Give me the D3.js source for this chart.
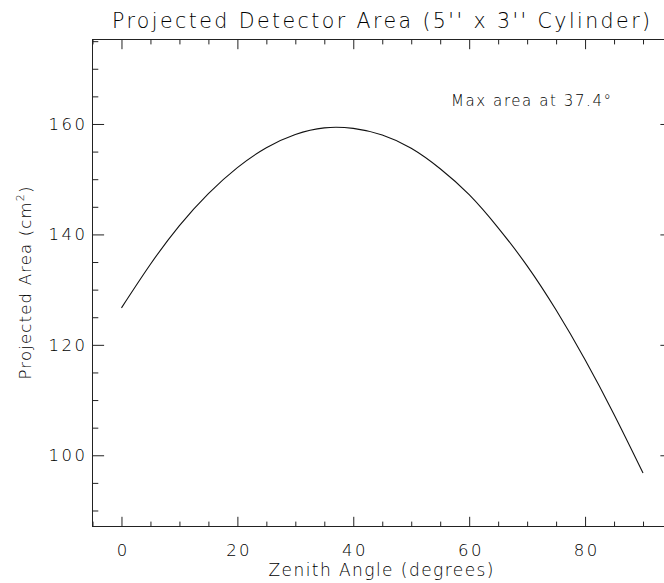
<!DOCTYPE html>
<html>
<head>
<meta charset="utf-8">
<script src="https://cdn.jsdelivr.net/npm/d3@7"></script>
<style>
  html, body { margin: 0; padding: 0; background: #fff; }
  svg { display: block; }
  text { font-family: "DejaVu Sans", "Liberation Sans", sans-serif; font-weight: 200; fill: #000; }
</style>
</head>
<body>
<svg id="chart" width="664" height="583"></svg>
<script>
// Zenith angle (degrees) and projected area (cm^2) of a 5" x 3" cylinder
const zenithAngle = [0, 5, 10, 15, 20, 25, 30, 35, 40, 45, 50, 55, 60, 65, 70, 75, 80, 85, 90];
const projectedArea = [126.7, 134.6, 141.6, 147.4, 152.1, 155.7, 158.1, 159.3, 159.2, 158.0,
                       155.6, 151.9, 147.2, 141.2, 134.3, 126.3, 117.3, 107.4, 96.8];
const xTickValues = [0, 20, 40, 60, 80];
const yTickValues = [100, 120, 140, 160];
const xDomain = [-5, 95];
const yDomain = [87.1, 175.3];
const maxAngle = 37.4;

const titleText = "Projected Detector Area (5'' x 3'' Cylinder)";
const xTitle = "Zenith Angle (degrees)";

const svg = d3.select("#chart");
const plotLeft = 92.5, plotRight = 672, plotTop = 39.5, plotBottom = 526.5;

const x = d3.scaleLinear().domain(xDomain).range([plotLeft, plotRight]);
const y = d3.scaleLinear().domain(yDomain).range([plotBottom, plotTop]);

const xMinor = d3.range(-5, 96, 5).filter(v => v % 20 !== 0);
const yMinor = d3.range(90, 176, 5).filter(v => v % 20 !== 0);

const axisColor = "#222";

// frame
svg.append("rect")
  .attr("x", plotLeft).attr("y", plotTop)
  .attr("width", plotRight - plotLeft).attr("height", plotBottom - plotTop)
  .attr("fill", "none").attr("stroke", axisColor).attr("stroke-width", 1);

// tick lengths: major and minor, for x and y
const xMajorLen = 9.7, xMinorLen = 4.9;
const yMajorLen = 11.6, yMinorLen = 5.8;

function addAxis(axis, tx, ty) {
  const g = svg.append("g").attr("transform", `translate(${tx},${ty})`).call(axis);
  g.select(".domain").remove();
  return g;
}

// bottom and top axes
const gx = addAxis(d3.axisBottom(x).tickValues(xTickValues).tickSize(-xMajorLen).tickPadding(17.5).tickFormat(d3.format("d")), 0, plotBottom);
addAxis(d3.axisBottom(x).tickValues(xMinor).tickSize(-xMinorLen).tickFormat(""), 0, plotBottom);
addAxis(d3.axisTop(x).tickValues(xTickValues).tickSize(-xMajorLen).tickFormat(""), 0, plotTop);
addAxis(d3.axisTop(x).tickValues(xMinor).tickSize(-xMinorLen).tickFormat(""), 0, plotTop);

// left and right axes
const gy = addAxis(d3.axisLeft(y).tickValues(yTickValues).tickSize(-yMajorLen).tickPadding(5).tickFormat(d3.format("d")), plotLeft, 0);
addAxis(d3.axisLeft(y).tickValues(yMinor).tickSize(-yMinorLen).tickFormat(""), plotLeft, 0);
addAxis(d3.axisRight(y).tickValues(yTickValues).tickSize(-yMajorLen).tickFormat(""), plotRight, 0);
addAxis(d3.axisRight(y).tickValues(yMinor).tickSize(-yMinorLen).tickFormat(""), plotRight, 0);

svg.selectAll(".tick line").attr("stroke", axisColor);
svg.selectAll(".tick text")
  .style("font-family", '"DejaVu Sans", sans-serif')
  .style("font-weight", 200)
  .style("font-size", "16.5px")
  .style("letter-spacing", "2.5px")
  .attr("fill", "#000");
// keep centred labels centred despite the trailing letter spacing
gx.selectAll(".tick text").attr("dx", 1.25);

// curve
const line = d3.line()
  .x((d, i) => x(zenithAngle[i]))
  .y(d => y(d))
  .curve(d3.curveNatural);

svg.append("path")
  .datum(projectedArea)
  .attr("d", line)
  .attr("fill", "none")
  .attr("stroke", "#111")
  .attr("stroke-width", 1.1);

// title
svg.append("text")
  .attr("x", 381)
  .attr("y", 28.3)
  .attr("text-anchor", "middle")
  .attr("textLength", 538)
  .attr("lengthAdjust", "spacing")
  .style("font-size", "20.5px")
  .text(titleText);

// x axis title
svg.append("text")
  .attr("x", 381)
  .attr("y", 576)
  .attr("text-anchor", "middle")
  .attr("textLength", 225)
  .attr("lengthAdjust", "spacing")
  .style("font-size", "17px")
  .text(xTitle);

// y axis title with superscript
const yt = svg.append("text")
  .attr("transform", `translate(30.5,${(plotTop + plotBottom) / 2}) rotate(-90)`)
  .attr("text-anchor", "middle")
  .attr("textLength", 193)
  .attr("lengthAdjust", "spacing")
  .style("font-size", "16.5px");
yt.append("tspan").text("Projected Area (cm");
yt.append("tspan").attr("dy", -7).style("font-size", "11px").text("2");
yt.append("tspan").attr("dy", 7).text(")");

// annotation for the angle of maximum area
svg.append("text")
  .attr("x", 451)
  .attr("y", 106)
  .attr("textLength", 160)
  .attr("lengthAdjust", "spacing")
  .style("font-size", "15px")
  .text(`Max area at ${maxAngle}°`);
</script>
</body>
</html>
